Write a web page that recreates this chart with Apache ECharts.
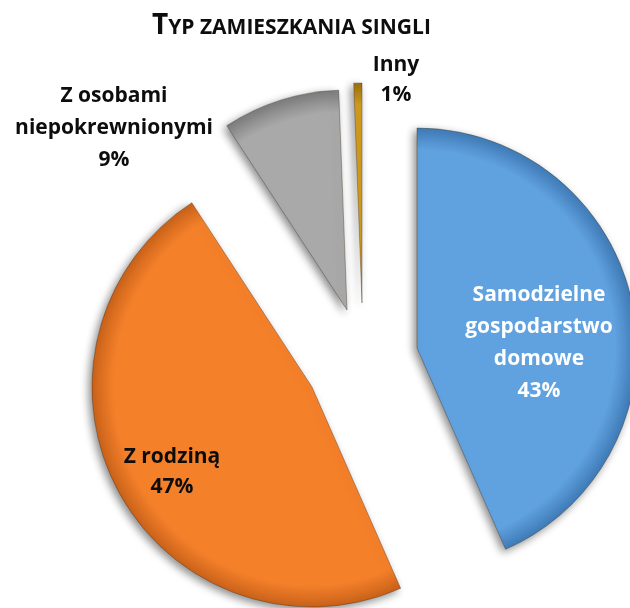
<!DOCTYPE html>
<html>
<head>
<meta charset="utf-8">
<script src="https://cdn.jsdelivr.net/npm/echarts@6/dist/echarts.min.js"></script>
<style>
  html, body { margin: 0; padding: 0; background: #fff; }
  #chart { width: 630px; height: 608px; }
</style>
</head>
<body>
<div id="chart"></div>
<script>
  // data
  const categories = ['Samodzielne\ngospodarstwo\ndomowe', 'Z rodziną', 'Z osobami\nniepokrewnionymi', 'Inny']
  const values = [43.4, 47.4, 8.6, 0.6]
  const colors = ['#60a1df', '#f5802a', '#a9a9a9', '#d19c1e']
  const edgeColors = ['#3f7cb8', '#c9621a', '#7d7d7d', '#9a7010']
  const labelColors = ['#ffffff', '#0d0d0d', '#0d0d0d', '#0d0d0d']

  // each exploded slice gets its own pie centre and label spot
  const sliceCenters = [[417, 348], [312, 387], [347, 310], [362, 303]]
  const labelSpots = [[539, 343], [172, 472], [114, 128], [396, 80]]
  const lineHeights = [32, 30, 32, 30]
  const R = 220

  const chart = echarts.init(document.getElementById('chart'))

  const series = categories.map((name, i) => ({
    type: 'pie',
    silent: true,
    radius: R,
    center: sliceCenters[i],
    startAngle: 90,
    clockwise: true,
    percentPrecision: 0,
    avoidLabelOverlap: false,
    labelLine: { show: false },
    labelLayout: {
      x: labelSpots[i][0],
      y: labelSpots[i][1],
      align: 'center',
      verticalAlign: 'middle'
    },
    data: categories.map((c, j) => ({
      name: c,
      value: values[j],
      itemStyle: j === i ? {
        color: new echarts.graphic.RadialGradient(sliceCenters[j][0], sliceCenters[j][1], R, [
          { offset: 0, color: colors[j] },
          { offset: 0.9, color: colors[j] },
          { offset: 1, color: edgeColors[j] }
        ], true),
        borderColor: 'rgba(60,40,20,0.35)',
        borderWidth: 1,
        shadowBlur: 8,
        shadowColor: 'rgba(0,0,0,0.45)',
        shadowOffsetX: -3,
        shadowOffsetY: 3
      } : { color: 'rgba(0,0,0,0)' },
      label: j === i ? {
        show: true,
        position: 'inside',
        formatter: '{b}\n{d}%',
        color: labelColors[j],
        fontFamily: 'Open Sans',
        fontWeight: 'bold',
        fontSize: 21,
        lineHeight: lineHeights[j],
        align: 'center'
      } : { show: false }
    }))
  }))

  chart.setOption({
    backgroundColor: '#ffffff',
    animation: false,
    title: {
      text: '{big|T}{small|YP ZAMIESZKANIA SINGLI}',
      left: 147,
      top: 3,
      textStyle: {
        rich: {
          big: {
            fontFamily: 'Open Sans',
            fontWeight: 'bold',
            fontSize: 28,
            color: '#0d0d0d',
            verticalAlign: 'bottom',
            lineHeight: 32
          },
          small: {
            fontFamily: 'Open Sans',
            fontWeight: 'bold',
            fontSize: 21,
            color: '#0d0d0d',
            verticalAlign: 'bottom',
            lineHeight: 32,
            padding: [0, 0, 1, 0]
          }
        }
      }
    },
    series: series
  })
</script>
</body>
</html>
